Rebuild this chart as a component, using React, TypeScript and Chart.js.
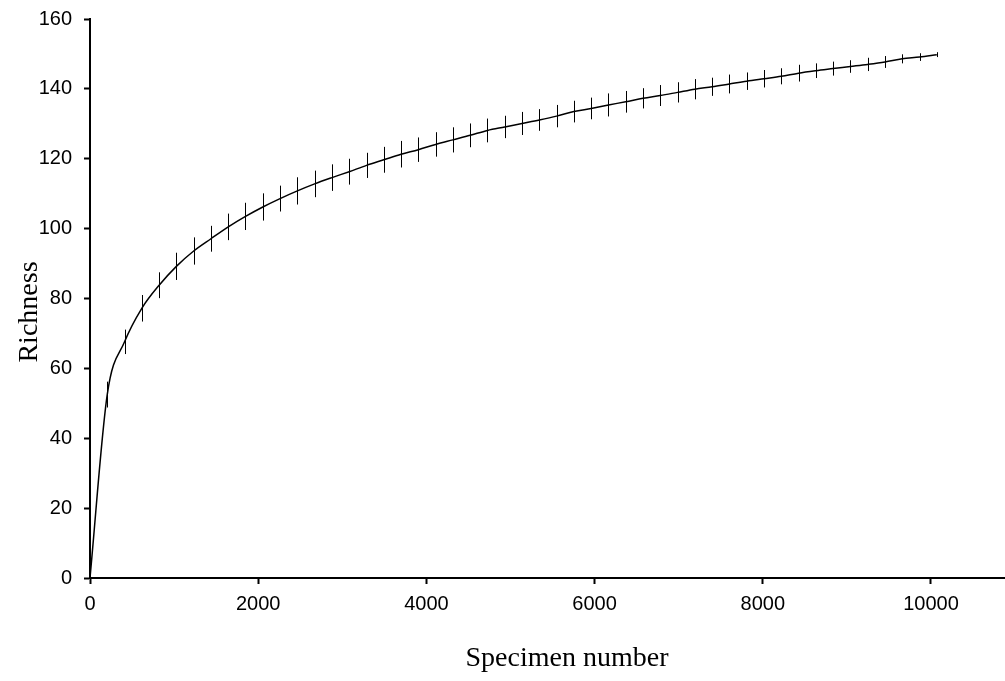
import React, { useEffect, useRef } from "react";
import { Chart, registerables } from "chart.js";

Chart.register(...registerables);

const specimens = [
  0, 205, 411, 616, 822, 1027, 1233, 1438, 1644, 1849, 2055, 2260, 2466, 2671,
  2877, 3082, 3288, 3493, 3699, 3904, 4110, 4315, 4521, 4726, 4932, 5137, 5343,
  5548, 5754, 5959, 6165, 6370, 6576, 6781, 6987, 7192, 7398, 7603, 7809, 8014,
  8220, 8425, 8631, 8836, 9042, 9247, 9453, 9658, 9864, 10069,
];

const richness = [
  0, 52.5, 67.6, 77.2, 83.8, 89.2, 93.6, 97.1, 100.5, 103.5, 106.2, 108.6,
  110.8, 112.8, 114.6, 116.3, 118.1, 119.7, 121.3, 122.6, 124.1, 125.4, 126.7,
  128.1, 129.1, 130.1, 131.1, 132.2, 133.5, 134.4, 135.4, 136.3, 137.3, 138.1,
  139.0, 139.9, 140.6, 141.4, 142.2, 142.9, 143.6, 144.5, 145.2, 145.8, 146.4,
  147.0, 147.7, 148.6, 149.1, 149.8,
];

const errors = [
  0, 3.7, 3.5, 3.8, 3.7, 3.9, 3.9, 3.7, 3.8, 3.9, 3.9, 3.7, 3.9, 3.8, 3.8, 3.7,
  3.6, 3.7, 3.8, 3.5, 3.5, 3.6, 3.4, 3.4, 3.2, 3.3, 3.1, 3.2, 3.1, 3.1, 3.3,
  3.1, 2.9, 3.0, 2.9, 2.9, 2.6, 2.7, 2.5, 2.5, 2.3, 2.4, 2.1, 2.0, 1.8, 1.9,
  1.7, 1.3, 1.1, 0.7,
];

const xTickValues = [0, 2000, 4000, 6000, 8000, 10000];
const xTitle = "Specimen number";
const yTitle = "Richness";

const errorBarPlugin = {
  id: "errorBars",
  afterDatasetsDraw(chart: any) {
    const { ctx, scales } = chart;
    const xs = scales.x;
    const ys = scales.y;
    ctx.save();
    ctx.strokeStyle = "#000";
    ctx.lineWidth = 1;
    for (let i = 0; i < specimens.length; i++) {
      const e = errors[i];
      if (!e) continue;
      const px = Math.round(xs.getPixelForValue(specimens[i])) + 0.5;
      const top = ys.getPixelForValue(richness[i] + e);
      const bot = ys.getPixelForValue(richness[i] - e);
      ctx.beginPath();
      ctx.moveTo(px, top);
      ctx.lineTo(px, bot);
      ctx.stroke();
    }
    ctx.restore();
  },
};

const titlesPlugin = {
  id: "axisTitles",
  afterDraw(chart: any) {
    const { ctx, chartArea } = chart;
    ctx.save();
    ctx.fillStyle = "#000";
    ctx.font = "28px 'Liberation Serif', 'Times New Roman', serif";
    ctx.textAlign = "center";
    ctx.textBaseline = "middle";
    ctx.fillText(xTitle, chartArea.left + 477, 659);
    ctx.translate(chartArea.left - 60, 312);
    ctx.rotate(-Math.PI / 2);
    ctx.fillText(yTitle, 0, 0);
    ctx.restore();
  },
};

export default function App() {
  const ref = useRef<HTMLCanvasElement | null>(null);

  useEffect(() => {
    if (!ref.current) return;
    const chart = new Chart(ref.current, {
      type: "line",
      data: {
        datasets: [
          {
            data: specimens.map((x, i) => ({ x, y: richness[i] })),
            borderColor: "#000",
            borderWidth: 1.5,
            pointRadius: 0,
            fill: false,
            cubicInterpolationMode: "monotone",
          },
        ],
      },
      options: {
        animation: false,
        responsive: false,
        events: [],
        layout: { padding: { top: 19, right: 0, left: 0, bottom: 0 } },
        plugins: {
          legend: { display: false },
          tooltip: { enabled: false },
          title: { display: false },
        },
        scales: {
          x: {
            type: "linear",
            min: 0,
            max: 10880,
            afterBuildTicks: (scale: any) => {
              scale.ticks = xTickValues.map((v) => ({ value: v }));
            },
            afterFit: (scale: any) => {
              scale.height = 103;
              scale.paddingLeft = 0;
              scale.paddingRight = 0;
            },
            border: { display: true, color: "#000", width: 2 },
            grid: {
              drawOnChartArea: false,
              drawTicks: true,
              tickLength: 6,
              tickWidth: 2,
              tickColor: "#000",
            },
            ticks: {
              color: "#000",
              padding: 8,
              maxRotation: 0,
              callback: (v: any) => String(v),
              font: { family: "'Liberation Sans', Arial, sans-serif", size: 20 },
            },
          },
          y: {
            type: "linear",
            min: 0,
            max: 160,
            afterFit: (scale: any) => {
              scale.width = 90;
              scale.paddingTop = 0;
              scale.paddingBottom = 0;
            },
            border: { display: true, color: "#000", width: 2 },
            grid: {
              drawOnChartArea: false,
              drawTicks: true,
              tickLength: 6,
              tickWidth: 2,
              tickColor: "#000",
            },
            ticks: {
              color: "#000",
              stepSize: 20,
              padding: 12,
              callback: (v: any) => String(v),
              font: { family: "'Liberation Sans', Arial, sans-serif", size: 20 },
            },
          },
        },
      },
      plugins: [errorBarPlugin, titlesPlugin],
    });
    return () => chart.destroy();
  }, []);

  return (
    <div style={{ position: "absolute", left: 0, top: 0, width: 1005, height: 681, background: "#fff" }}>
      <canvas ref={ref} width={1005} height={681} style={{ display: "block" }} />
    </div>
  );
}
